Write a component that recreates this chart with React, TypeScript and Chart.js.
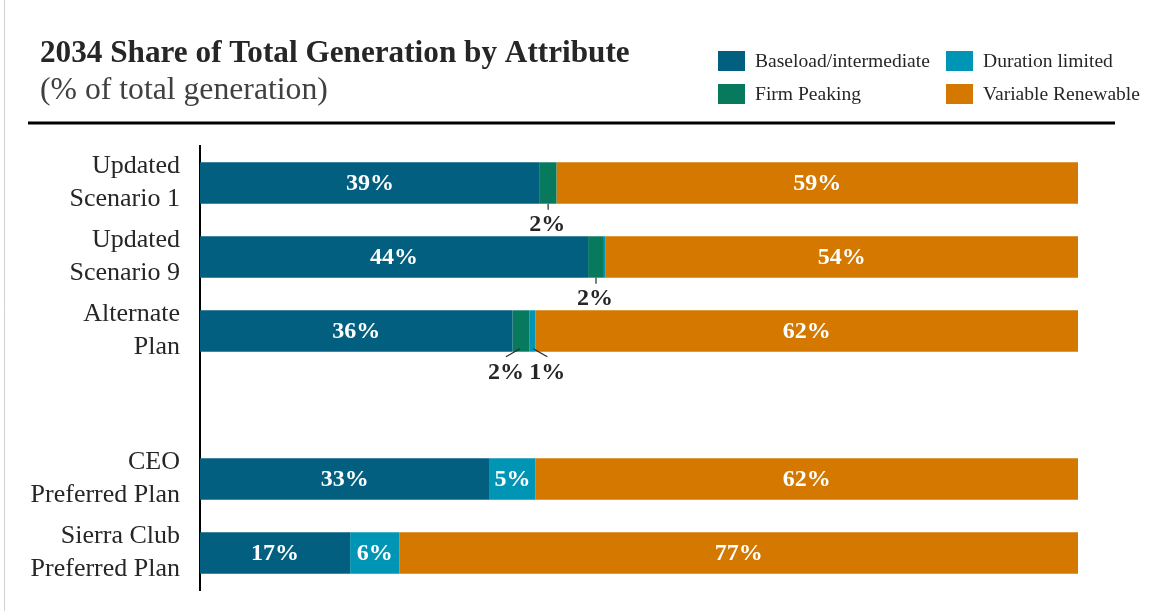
import React, { useEffect, useRef } from "react";
import { Chart, registerables } from "chart.js";
Chart.register(...registerables);

const categories: (string | string[])[] = [
  ["Updated", "Scenario 1"],
  ["Updated", "Scenario 9"],
  ["Alternate", "Plan"],
  "",
  ["CEO", "Preferred Plan"],
  ["Sierra Club", "Preferred Plan"],
];
const baseload = [38.7, 44.2, 35.6, null, 33.0, 17.1];
const firmPeaking = [1.9, 1.8, 1.9, null, 0, 0];
const durationLimited = [0, 0.2, 0.7, null, 5.2, 5.6];
const variableRenewable = [59.4, 53.8, 61.8, null, 61.8, 77.3];

const seriesNames = ["Baseload/intermediate", "Firm Peaking", "Duration limited", "Variable Renewable"];
const seriesColors = ["#035F80", "#07795D", "#0095B5", "#D47800"];
const legendOrder = [0, 2, 1, 3];

const titleText = "2034 Share of Total Generation by Attribute";
const subtitleText = "(% of total generation)";

const FONT = "'Liberation Serif', 'Times New Roman', serif";

function fitFont(ctx: CanvasRenderingContext2D, text: string, weight: string, target: number, start: number) {
  let size = start;
  for (let i = 0; i < 40; i++) {
    ctx.font = `${weight} ${size}px ${FONT}`;
    const w = ctx.measureText(text).width;
    if (Math.abs(w - target) < 1) break;
    size = size * (target / w);
  }
  ctx.font = `${weight} ${size}px ${FONT}`;
  return size;
}

const decorPlugin = {
  id: "decor",
  afterDraw(chart: any) {
    const ctx: CanvasRenderingContext2D = chart.ctx;
    ctx.save();
    // slide border line
    ctx.strokeStyle = "#d0d0d0";
    ctx.lineWidth = 1;
    ctx.beginPath();
    ctx.moveTo(4.5, 0);
    ctx.lineTo(4.5, 611);
    ctx.stroke();
    // title
    ctx.fillStyle = "#262626";
    ctx.textAlign = "left";
    ctx.textBaseline = "alphabetic";
    fitFont(ctx, titleText, "bold", 590, 26);
    ctx.fillText(titleText, 40, 62);
    ctx.fillStyle = "#404040";
    fitFont(ctx, subtitleText, "normal", 288, 26);
    ctx.fillText(subtitleText, 40, 99);
    // rule
    ctx.fillStyle = "#000";
    ctx.fillRect(28, 121.5, 1087, 3);
    // legend
    const pos = [
      { x: 718, y: 51 },
      { x: 946, y: 51 },
      { x: 718, y: 84 },
      { x: 946, y: 84 },
    ];
    const lsize = fitFont(ctx, seriesNames[0], "normal", 175, 16);
    ctx.font = `${lsize}px ${FONT}`;
    legendOrder.forEach((si, k) => {
      const p = pos[k];
      ctx.fillStyle = seriesColors[si];
      ctx.fillRect(p.x, p.y, 27, 20);
      ctx.fillStyle = "#262626";
      ctx.textBaseline = "middle";
      ctx.fillText(seriesNames[si], p.x + 37, p.y + 11);
    });
    ctx.restore();
  },
  afterDatasetsDraw(chart: any) {
    const ctx: CanvasRenderingContext2D = chart.ctx;
    ctx.save();
    ctx.textAlign = "center";
    const n = categories.length;
    for (let i = 0; i < n; i++) {
      const small: { x: number; bottom: number; text: string }[] = [];
      chart.data.datasets.forEach((ds: any, di: number) => {
        const v = ds.data[i];
        if (v == null || v < 0.5) return;
        const el = chart.getDatasetMeta(di).data[i];
        if (!el) return;
        const left = Math.min(el.base, el.x);
        const right = Math.max(el.base, el.x);
        const cx = (left + right) / 2;
        const text = `${Math.round(v)}%`;
        if (v >= 3) {
          ctx.fillStyle = "#ffffff";
          ctx.font = `bold 24px ${FONT}`;
          ctx.textBaseline = "middle";
          ctx.fillText(text, cx, el.y + 1);
        } else {
          small.push({ x: cx, bottom: el.y + el.height / 2, text });
        }
      });
      ctx.strokeStyle = "#262626";
      ctx.lineWidth = 1.2;
      ctx.fillStyle = "#262626";
      ctx.font = `bold 24px ${FONT}`;
      ctx.textBaseline = "alphabetic";
      if (small.length === 1) {
        const s = small[0];
        ctx.beginPath();
        ctx.moveTo(s.x, s.bottom);
        ctx.lineTo(s.x, s.bottom + 6);
        ctx.stroke();
        ctx.fillText(s.text, s.x - 1, s.bottom + 27);
      } else if (small.length > 1) {
        small.forEach((s, k) => {
          const dir = k === 0 ? -1 : 1;
          const lx = s.x + dir * 15;
          ctx.beginPath();
          ctx.moveTo(s.x + dir * 1, s.bottom - 3);
          ctx.lineTo(lx, s.bottom + 5);
          ctx.stroke();
          ctx.fillText(s.text, lx, s.bottom + 27);
        });
      }
    }
    ctx.restore();
  },
};

export default function App() {
  const ref = useRef<HTMLCanvasElement>(null);
  useEffect(() => {
    const canvas = ref.current!;
    const chart = new Chart(canvas, {
      type: "bar",
      data: {
        labels: categories as any,
        datasets: [baseload, firmPeaking, durationLimited, variableRenewable].map((d, k) => ({
          label: seriesNames[k],
          data: d as any,
          backgroundColor: seriesColors[k],
          borderWidth: 0,
          categoryPercentage: 1,
          barPercentage: 0.56,
        })),
      },
      options: {
        indexAxis: "y",
        responsive: false,
        animation: false,
        layout: { padding: { top: 146, bottom: 21, right: 89, left: 0 } },
        plugins: { legend: { display: false }, tooltip: { enabled: false }, title: { display: false } },
        scales: {
          x: { stacked: true, min: 0, max: 100, display: false },
          y: {
            stacked: true,
            grid: { display: false, drawTicks: false },
            border: { display: true, color: "#000", width: 2 },
            ticks: {
              color: "#262626",
              padding: 20,
              font: { family: FONT, size: 26, lineHeight: 1.27 },
            },
            afterFit(scale: any) {
              scale.width = 200;
              scale.paddingTop = 0;
              scale.paddingBottom = 0;
            },
          },
        },
      },
      plugins: [decorPlugin],
    });
    return () => chart.destroy();
  }, []);
  return (
    <div style={{ position: "fixed", left: 0, top: 0, width: 1167, height: 611, background: "#fff" }}>
      <canvas ref={ref} width={1167} height={611} style={{ width: 1167, height: 611, display: "block" }} />
    </div>
  );
}
